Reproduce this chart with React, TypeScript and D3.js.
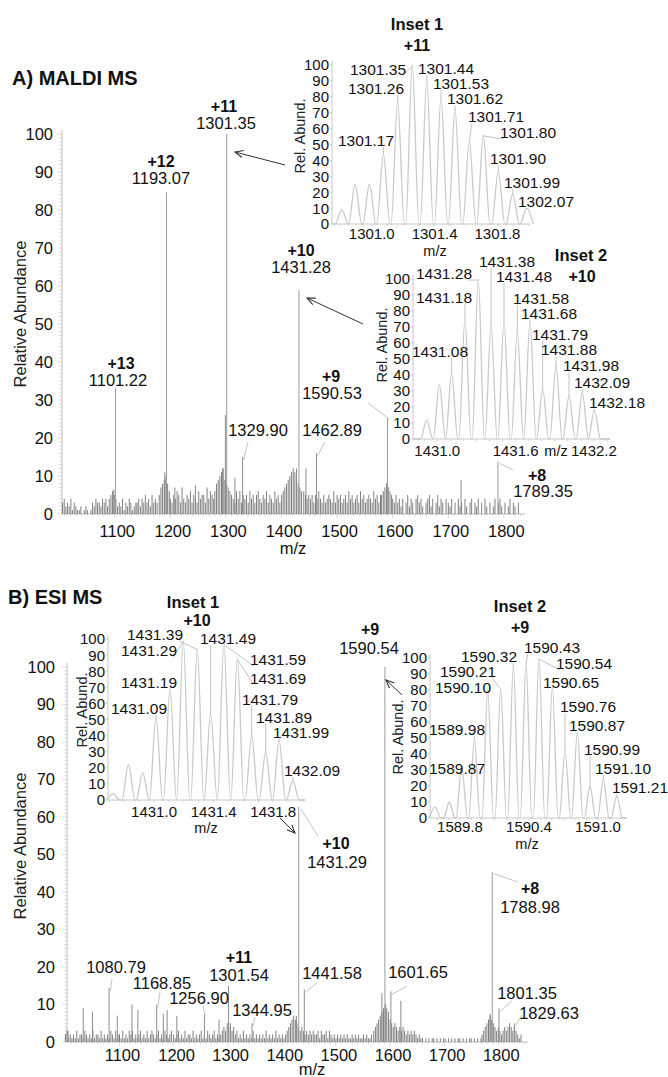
import React from "react";
import * as d3 from "d3";

const FONT = "'Liberation Sans', Arial, Helvetica, sans-serif";

const yTicks = [0, 10, 20, 30, 40, 50, 60, 70, 80, 90, 100];
const mzTicks = [1100, 1200, 1300, 1400, 1500, 1600, 1700, 1800];

// ---------- A) MALDI MS ----------
const maldiPeakMz = [1101.22, 1193.07, 1301.35, 1431.28, 1590.53, 1789.35];
const maldiPeakAbund = [33.2, 84.7, 100, 59, 25.5, 13.8];
const maldiPeakCharge = ["+13", "+12", "+11", "+10", "+9", "+8"];
const maldiPeakText = ["1101.22", "1193.07", "1301.35", "1431.28", "1590.53", "1789.35"];
const maldiMinorMz = [1329.9, 1462.89];
const maldiMinorAbund = [15, 16];
const maldiMinorText = ["1329.90", "1462.89"];
const maldiSpikeMz = [1098, 1190, 1208, 1245, 1294, 1299, 1316, 1427, 1444, 1589, 1723];
const maldiSpikeAbund = [6.5, 11, 7, 7.5, 12, 26, 9.5, 12, 12, 8, 9];
// noise sticks, one character per 3 m/z (base-36 height in %)
const maldiNoise: [number, string][] = [
  [1006, "34232413"],
  [1030, "2112012101"],
  [1060, "3243324342"],
  [1090, "45654"],
  [1105, "232413243123"],
  [1140, "3424353425343"],
  [1180, "5789a86"],
  [1200, "435465374354635436455374654"],
  [1280, "689abc9876"],
  [1310, "543646354536453564354635436453"],
  [1400, "56789abcb9876"],
  [1440, "6545453546"],
  [1470, "4353454363545345364534536453454364535"],
  [1580, "5678765"],
  [1600, "435342403524304534203452403524304"],
  [1700, "3240304230420340324030420302403420302403203"],
];

const maldiInset1Mz = [1300.809, 1300.894, 1300.985, 1301.074, 1301.165, 1301.258, 1301.35, 1301.441, 1301.53, 1301.621, 1301.71, 1301.805, 1301.897, 1301.986];
const maldiInset1Abund = [9, 25, 25, 44, 77, 100, 90, 80, 72, 52, 56, 33, 19, 10];
const maldiInset1Labels = ["1301.17", "1301.26", "1301.35", "1301.44", "1301.53", "1301.62", "1301.71", "1301.80", "1301.90", "1301.99", "1302.07"];
const maldiInset1Ticks = [1301.0, 1301.4, 1301.8];

const maldiInset2Mz = [1430.919, 1431.016, 1431.11, 1431.212, 1431.314, 1431.412, 1431.511, 1431.613, 1431.71, 1431.807, 1431.909, 1432.009, 1432.111, 1432.203];
const maldiInset2Abund = [12, 34, 41, 75, 100, 71, 73, 67, 74, 31, 46, 27, 29, 18];
const maldiInset2Labels = ["1431.08", "1431.18", "1431.28", "1431.38", "1431.48", "1431.58", "1431.68", "1431.79", "1431.88", "1431.98", "1432.09", "1432.18"];
const maldiInset2Ticks = [1431.0, 1431.6, 1432.2];

// ---------- B) ESI MS ----------
const esiPeakMz = [1431.29, 1590.54, 1788.98];
const esiPeakAbund = [62.7, 100, 45.4];
const esiPeakCharge = ["+10", "+9", "+8"];
const esiPeakText = ["1431.29", "1590.54", "1788.98"];
const esiMinorMz = [1080.79, 1168.85, 1256.9, 1301.54, 1344.95, 1441.58, 1601.65, 1801.35, 1829.63];
const esiMinorAbund = [14.4, 10, 7.5, 15, 5, 14, 13.5, 9, 5];
const esiMinorText = ["1080.79", "1168.85", "1256.90", "1301.54", "1344.95", "1441.58", "1601.65", "1801.35", "1829.63"];
const esiSpikeMz = [1005, 1033, 1050, 1096, 1123, 1134, 1181, 1188, 1206, 1284, 1427, 1585, 1592, 1620, 1785];
const esiSpikeAbund = [3, 9, 8, 7, 10, 8.5, 7.5, 8.5, 7, 6, 7, 13, 10, 11, 7.5];
const esiNoise: [number, string][] = [
  [1000, "2312121312213212131221312121321312"],
  [1100, "213121323121231213123212312132123"],
  [1200, "212312131221312123121321231212"],
  [1290, "3435453423"],
  [1320, "121312121312121213121213121212"],
  [1410, "3456765434"],
  [1440, "32323232231322313212"],
  [1500, "12121212112121211212112"],
  [1570, "3456789a98"],
  [1600, "65454343432323232121"],
  [1660, "1010101101010110101010110101011010101"],
  [1770, "2345676543"],
  [1800, "432343454343212"],
];

const esiInset1Mz = [1430.725, 1430.828, 1430.924, 1431.013, 1431.107, 1431.196, 1431.29, 1431.38, 1431.469, 1431.559, 1431.655, 1431.749, 1431.839, 1431.931];
const esiInset1Abund = [4, 22, 17, 52, 69, 99, 94, 54, 97, 88, 40, 30, 37, 12];
const esiInset1Labels = ["1431.09", "1431.19", "1431.29", "1431.39", "1431.49", "1431.59", "1431.69", "1431.79", "1431.89", "1431.99", "1432.09"];
const esiInset1Ticks = [1431.0, 1431.4, 1431.8];

const esiInset2Mz = [1589.583, 1589.707, 1589.815, 1589.925, 1590.041, 1590.154, 1590.264, 1590.374, 1590.487, 1590.603, 1590.713, 1590.82, 1590.93, 1591.046, 1591.163];
const esiInset2Abund = [7, 10, 32, 49, 80, 81, 95, 97, 100, 82, 42, 53, 20, 24, 13.5];
const esiInset2Labels = ["1589.87", "1589.98", "1590.10", "1590.21", "1590.32", "1590.43", "1590.54", "1590.65", "1590.76", "1590.87", "1590.99", "1591.10", "1591.21"];
const esiInset2Ticks = [1589.8, 1590.4, 1591.0];

type Pt = [number, number];

type MainCfg = {
  domain: [number, number]; x0: number; x1: number; yBase: number; yTop: number;
  tickGap: number; tickDx: number; tickY: number; mzPos: Pt; titlePos: Pt; title: string; yLabelPos: Pt;
  noise: [number, string][]; spikeMz: number[]; spikeAbund: number[];
  peakMz: number[]; peakAbund: number[]; peakCharge: string[]; peakText: string[];
  peakLayout: { c: Pt; v: Pt; lead?: Pt }[];
  minorMz: number[]; minorAbund: number[]; minorText: string[];
  minorLayout: { v: Pt; c?: Pt; charge?: string; lead?: Pt }[];
};

const MainSpectrum = ({ cfg }: { cfg: MainCfg }) => {
  const x = d3.scaleLinear().domain(cfg.domain).range([cfg.x0, cfg.x1]);
  const y = d3.scaleLinear().domain([0, 100]).range([cfg.yBase, cfg.yTop]);

  const noiseD = cfg.noise
    .map(([start, s]) =>
      s.split("").map((ch, i) => `M${x(start + i * 3).toFixed(2)},${cfg.yBase}V${y(parseInt(ch, 36)).toFixed(2)}`).join("")
    )
    .join("");
  const spikeD = cfg.spikeMz.map((m, i) => `M${x(m)},${cfg.yBase}V${y(cfg.spikeAbund[i])}`).join("");
  const minorD = cfg.minorMz.map((m, i) => `M${x(m)},${cfg.yBase}V${y(cfg.minorAbund[i])}`).join("");
  const peakD = cfg.peakMz.map((m, i) => `M${x(m)},${cfg.yBase}V${y(cfg.peakAbund[i])}`).join("");

  const minorY = d3.range(0, 101, 1);
  const minorX = d3.range(1010, cfg.domain[1], 10);

  return (
    <g fontFamily={FONT}>
      <text x={cfg.titlePos[0]} y={cfg.titlePos[1]} dy="0.36em" fontSize={20} fontWeight="bold" fill="#111">{cfg.title}</text>
      <text transform={`translate(${cfg.yLabelPos[0]},${cfg.yLabelPos[1]}) rotate(-90)`} textAnchor="middle" dy="0.36em" fontSize={16.5} fill="#222">Relative Abundance</text>
      {minorY.map(v => (
        <line key={`my${v}`} x1={cfg.x0 - (v % 10 === 0 ? 5 : 3)} x2={cfg.x0} y1={y(v)} y2={y(v)} stroke="#d6d6d6" strokeWidth={0.8} />
      ))}
      <line x1={cfg.x0} x2={cfg.x0} y1={cfg.yTop - 4} y2={cfg.yBase} stroke="#bdbdbd" />
      {yTicks.map(v => (
        <text key={`yt${v}`} x={cfg.x0 - cfg.tickGap} y={y(v)} dy="0.36em" textAnchor="end" fontSize={16.5} fill="#111">{v}</text>
      ))}
      {minorX.map(v => (
        <line key={`mx${v}`} x1={x(v)} x2={x(v)} y1={cfg.yBase} y2={cfg.yBase + (v % 100 === 0 ? 4 : 2)} stroke="#cfcfcf" strokeWidth={0.8} />
      ))}
      <line x1={cfg.x0} x2={cfg.x1} y1={cfg.yBase} y2={cfg.yBase} stroke="#bdbdbd" />
      {mzTicks.map(v => (
        <text key={`xt${v}`} x={x(v) + cfg.tickDx} y={cfg.tickY} dy="0.36em" textAnchor="middle" fontSize={16.5} fill="#111">{v}</text>
      ))}
      <text x={cfg.mzPos[0]} y={cfg.mzPos[1]} dy="0.36em" textAnchor="middle" fontSize={16.5} fill="#111">m/z</text>

      <path d={noiseD} stroke="#727272" strokeWidth={0.9} fill="none" />
      <path d={spikeD} stroke="#8a8a8a" strokeWidth={1} fill="none" />
      <path d={minorD} stroke="#8f8f8f" strokeWidth={1} fill="none" />
      <path d={peakD} stroke="#9c9c9c" strokeWidth={1} fill="none" />

      {cfg.peakMz.map((m, i) => {
        const l = cfg.peakLayout[i];
        return (
          <g key={`pk${i}`}>
            {l.lead && <line x1={x(m) + 2} y1={y(cfg.peakAbund[i]) + 2} x2={l.lead[0]} y2={l.lead[1]} stroke="#c4c4c4" />}
            <text x={l.c[0]} y={l.c[1]} dy="0.36em" textAnchor="middle" fontSize={16} fontWeight="bold" fill="#111">{cfg.peakCharge[i]}</text>
            <text x={l.v[0]} y={l.v[1]} dy="0.36em" textAnchor="middle" fontSize={16.5} fill="#111">{cfg.peakText[i]}</text>
          </g>
        );
      })}
      {cfg.minorMz.map((m, i) => {
        const l = cfg.minorLayout[i];
        return (
          <g key={`mn${i}`}>
            {l.lead && <line x1={x(m) + 1} y1={y(cfg.minorAbund[i]) + 3} x2={l.lead[0]} y2={l.lead[1]} stroke="#c4c4c4" />}
            {l.c && <text x={l.c[0]} y={l.c[1]} dy="0.36em" textAnchor="middle" fontSize={16} fontWeight="bold" fill="#111">{l.charge}</text>}
            <text x={l.v[0]} y={l.v[1]} dy="0.36em" textAnchor="middle" fontSize={16.5} fill="#111">{cfg.minorText[i]}</text>
          </g>
        );
      })}
    </g>
  );
};

type InsetCfg = {
  x0: number; x1: number; yTop: number; yBase: number; domain: [number, number];
  mz: number[]; abund: number[]; hw: number; ticks: number[]; tickY: number; mzPos: Pt;
  relPos: Pt; title: string; titlePos: Pt; charge: string; chargePos: Pt;
  labels: string[]; labelStart: number; labelPos: Pt[];
};

const Inset = ({ cfg }: { cfg: InsetCfg }) => {
  const x = d3.scaleLinear().domain(cfg.domain).range([cfg.x0, cfg.x1]);
  const y = d3.scaleLinear().domain([0, 100]).range([cfg.yBase, cfg.yTop]);

  const pts: Pt[] = [];
  cfg.mz.forEach((m, i) => {
    pts.push([m - cfg.hw, 0], [m, cfg.abund[i]], [m + cfg.hw, 0]);
  });
  if (pts[0][0] > cfg.domain[0]) pts.unshift([cfg.domain[0], 0]);
  if (pts[pts.length - 1][0] < cfg.domain[1]) pts.push([cfg.domain[1], 0]);
  const line = d3.line<Pt>().x(d => x(d[0])).y(d => y(d[1])).curve(d3.curveMonotoneX);

  const fs = 15.5;
  const minorX = d3.range(Math.ceil(cfg.domain[0] * 10) / 10, cfg.domain[1], 0.1);

  return (
    <g fontFamily={FONT}>
      <text x={cfg.titlePos[0]} y={cfg.titlePos[1]} dy="0.36em" textAnchor="middle" fontSize={16.5} fontWeight="bold" fill="#111">{cfg.title}</text>
      <text x={cfg.chargePos[0]} y={cfg.chargePos[1]} dy="0.36em" textAnchor="middle" fontSize={16} fontWeight="bold" fill="#111">{cfg.charge}</text>
      <text transform={`translate(${cfg.relPos[0]},${cfg.relPos[1]}) rotate(-90)`} textAnchor="middle" dy="0.36em" fontSize={14.5} fill="#222">Rel. Abund.</text>
      <line x1={cfg.x0} x2={cfg.x0} y1={cfg.yTop - 4} y2={cfg.yBase} stroke="#c8c8c8" />
      <line x1={cfg.x0} x2={cfg.x1} y1={cfg.yBase} y2={cfg.yBase} stroke="#c8c8c8" />
      {yTicks.map(v => (
        <g key={`iy${v}`}>
          <line x1={cfg.x0 - 2} x2={cfg.x0} y1={y(v)} y2={y(v)} stroke="#c8c8c8" />
          <text x={cfg.x0 - 3} y={y(v)} dy="0.36em" textAnchor="end" fontSize={15} fill="#111">{v}</text>
        </g>
      ))}
      {minorX.map((v, i) => (
        <line key={`ix${i}`} x1={x(v)} x2={x(v)} y1={cfg.yBase} y2={cfg.yBase + 2} stroke="#cfcfcf" />
      ))}
      {cfg.ticks.map(v => (
        <text key={`it${v}`} x={x(v)} y={cfg.tickY} dy="0.36em" textAnchor="middle" fontSize={15} fill="#111">{d3.format(".1f")(v)}</text>
      ))}
      <text x={cfg.mzPos[0]} y={cfg.mzPos[1]} dy="0.36em" textAnchor="middle" fontSize={14.5} fill="#111">m/z</text>
      <path d={line(pts) || ""} fill="none" stroke="#c9c9c9" strokeWidth={1.3} />
      {cfg.labels.map((t, i) => {
        const k = cfg.labelStart + i;
        const px = x(cfg.mz[k]);
        const py = y(cfg.abund[k]);
        const [cx, cy] = cfg.labelPos[i];
        const w = fs * 0.52 * t.length;
        const sx = Math.max(cx - w / 2 + 4, Math.min(cx + w / 2 - 4, px));
        const sy = cy + 7;
        return (
          <g key={`il${i}`}>
            <line x1={sx} y1={sy} x2={px} y2={py + 1} stroke="#c4c4c4" />
            <text x={cx} y={cy} dy="0.36em" textAnchor="middle" fontSize={fs} fill="#111">{t}</text>
          </g>
        );
      })}
    </g>
  );
};

const maldiCfg: MainCfg = {
  domain: [1005, 1838], x0: 62, x1: 525, yBase: 514, yTop: 134,
  tickGap: 9, tickDx: 2.5, tickY: 531, mzPos: [293, 548], titlePos: [12, 78], title: "A) MALDI MS", yLabelPos: [20, 314],
  noise: maldiNoise, spikeMz: maldiSpikeMz, spikeAbund: maldiSpikeAbund,
  peakMz: maldiPeakMz, peakAbund: maldiPeakAbund, peakCharge: maldiPeakCharge, peakText: maldiPeakText,
  peakLayout: [
    { c: [121, 363], v: [118, 380] },
    { c: [161, 161], v: [161, 178] },
    { c: [224, 106], v: [226, 123] },
    { c: [301, 250], v: [301, 267] },
    { c: [331, 376], v: [332, 393], lead: [368, 403] },
    { c: [537, 475], v: [543, 491], lead: [513, 470] },
  ],
  minorMz: maldiMinorMz, minorAbund: maldiMinorAbund, minorText: maldiMinorText,
  minorLayout: [
    { v: [258, 430], lead: [248, 442] },
    { v: [332, 430], lead: [325, 442] },
  ],
};

const esiCfg: MainCfg = {
  domain: [1003, 1855], x0: 67, x1: 528, yBase: 1042, yTop: 667,
  tickGap: 12, tickDx: 3, tickY: 1055, mzPos: [312, 1069], titlePos: [8, 597], title: "B) ESI MS", yLabelPos: [20, 846],
  noise: esiNoise, spikeMz: esiSpikeMz, spikeAbund: esiSpikeAbund,
  peakMz: esiPeakMz, peakAbund: esiPeakAbund, peakCharge: esiPeakCharge, peakText: esiPeakText,
  peakLayout: [
    { c: [336, 843], v: [337, 862], lead: [318, 836] },
    { c: [370, 629], v: [369, 648] },
    { c: [530, 888], v: [530, 907], lead: [518, 882] },
  ],
  minorMz: esiMinorMz, minorAbund: esiMinorAbund, minorText: esiMinorText,
  minorLayout: [
    { v: [116, 967], lead: [112, 979] },
    { v: [162, 983], lead: [160, 992] },
    { v: [199, 998], lead: [203, 1006] },
    { v: [239, 975], c: [239, 957], charge: "+11" },
    { v: [262, 1010], lead: [255, 1017] },
    { v: [332, 973], lead: [317, 983] },
    { v: [418, 972], lead: [407, 986] },
    { v: [527, 993], lead: [512, 1001] },
    { v: [549, 1013], lead: [522, 1015] },
  ],
};

const insets: InsetCfg[] = [
  {
    x0: 332, x1: 530, yTop: 65, yBase: 224, domain: [1300.747, 1302.007], hw: 0.042,
    mz: maldiInset1Mz, abund: maldiInset1Abund, ticks: maldiInset1Ticks, tickY: 234, mzPos: [435, 251],
    relPos: [300, 136], title: "Inset 1", titlePos: [417, 24], charge: "+11", chargePos: [417, 45],
    labels: maldiInset1Labels, labelStart: 3,
    labelPos: [[366, 140], [376, 88], [378, 69], [446, 68], [461, 83], [475, 98], [496, 116], [528, 132], [518, 158], [532, 182], [546, 201]],
  },
  {
    x0: 413, x1: 610, yTop: 279, yBase: 439, domain: [1430.814, 1432.323], hw: 0.047,
    mz: maldiInset2Mz, abund: maldiInset2Abund, ticks: maldiInset2Ticks, tickY: 451, mzPos: [556, 451],
    relPos: [382, 345], title: "Inset 2", titlePos: [581, 255], charge: "+10", chargePos: [582, 276],
    labels: maldiInset2Labels, labelStart: 2,
    labelPos: [[440, 351], [444, 297], [444, 273], [507, 261], [524, 276], [541, 298], [549, 313], [560, 334], [569, 349], [591, 365], [602, 382], [617, 402]],
  },
  {
    x0: 108, x1: 305, yTop: 639, yBase: 800, domain: [1430.691, 1432.013], hw: 0.044,
    mz: esiInset1Mz, abund: esiInset1Abund, ticks: esiInset1Ticks, tickY: 812, mzPos: [206, 828],
    relPos: [82, 710], title: "Inset 1", titlePos: [193, 602], charge: "+10", chargePos: [197, 620],
    labels: esiInset1Labels, labelStart: 3,
    labelPos: [[139, 708], [149, 682], [149, 650], [155, 634], [228, 638], [278, 659], [278, 678], [270, 699], [284, 717], [301, 732], [312, 770]],
  },
  {
    x0: 430, x1: 627, yTop: 658, yBase: 818, domain: [1589.539, 1591.252], hw: 0.05,
    mz: esiInset2Mz, abund: esiInset2Abund, ticks: esiInset2Ticks, tickY: 827, mzPos: [527, 844],
    relPos: [398, 737], title: "Inset 2", titlePos: [520, 606], charge: "+9", chargePos: [520, 627],
    labels: esiInset2Labels, labelStart: 2,
    labelPos: [[457, 768], [457, 729], [463, 687], [468, 671], [489, 656], [552, 647], [584, 663], [571, 682], [588, 706], [597, 725], [612, 749], [623, 768], [640, 787]],
  },
];

const arrows: [Pt, Pt][] = [
  [[285, 165], [235, 152]],
  [[363, 324], [307, 298]],
  [[280, 818], [295, 833]],
  [[402, 695], [386, 680]],
];

export default function App() {
  return (
    <svg width={668} height={1077} style={{ position: "absolute", left: 0, top: 0, background: "#fff" }}>
      <defs>
        <marker id="arrowHead" viewBox="0 0 10 10" refX={9} refY={5} markerWidth={9} markerHeight={9} orient="auto">
          <path d="M0,1 L9,5 L0,9" fill="none" stroke="#333" strokeWidth={1.2} />
        </marker>
      </defs>
      <rect width={668} height={1077} fill="#fff" />
      <MainSpectrum cfg={maldiCfg} />
      <MainSpectrum cfg={esiCfg} />
      {insets.map((c, i) => <Inset key={i} cfg={c} />)}
      {arrows.map(([a, b], i) => (
        <line key={i} x1={a[0]} y1={a[1]} x2={b[0]} y2={b[1]} stroke="#333" strokeWidth={1} markerEnd="url(#arrowHead)" />
      ))}
    </svg>
  );
}
